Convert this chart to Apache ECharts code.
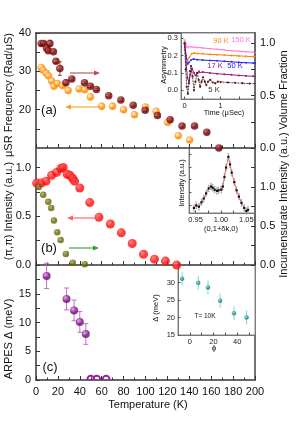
<!DOCTYPE html>
<html><head><meta charset="utf-8">
<script src="https://cdn.jsdelivr.net/npm/echarts@6/dist/echarts.min.js"></script>
<style>html,body{margin:0;padding:0;background:#fff}#c{width:305px;height:432px}</style>
</head><body><div id="c"></div>
<script>
// ---------- DATA ----------
// Panel (a): muSR frequency (left axis, orange) and volume fraction (right axis, dark red)
const freqT = [4.8, 6.6, 9.4, 11.5, 14.3, 16.4, 19.4, 24.3, 29.4, 39.4, 44.5, 49.7, 60, 70, 80, 90, 100, 109.7, 120.3, 130, 140.3];
const freqV = [31.0, 30.3, 29.5, 28.8, 27.5, 26.1, 26.8, 26.3, 25.0, 25.4, 25.2, 23.3, 20.9, 20.9, 20.0, 18.7, 20.7, 19.6, 16.7, 13.2, 12.1];
const freqE = [0.4, 0.4, 0.4, 0.4, 0.5, 0.6, 0.5, 0.6, 0.8, 0.6, 0.6, 0.8, 0.8, 0.8, 0.7, 0.6, 0.6, 0.6, 0.5, 0.5, 0.5];
const volT = [4.8, 7.0, 9.7, 11.2, 12.7, 15.9, 18.2, 21.8, 27.3, 32.7, 44.3, 49.7, 55.2, 66.4, 77.5, 88.8, 99.7, 110.9, 122.5, 133.4, 144.8, 156, 167];
const volV = [1.0, 1.0, 0.955, 0.93, 1.0, 0.92, 0.83, 0.76, 0.625, 0.66, 0.625, 0.59, 0.56, 0.50, 0.46, 0.41, 0.36, 0.31, 0.27, 0.21, 0.21, 0.15, 0.0];
const volE = [0.01, 0.01, 0.01, 0.01, 0.03, 0.01, 0.02, 0.065, 0.025, 0.01, 0.01, 0.01, 0.01, 0.01, 0.01, 0.01, 0.01, 0.01, 0.01, 0.01, 0.01, 0.01, 0.01];
// Inset (a): asymmetry vs time
const asym150 = [[0,0.29],[0.03,0.27],[0.06,0.25],[0.1,0.245],[0.2,0.25],[0.35,0.247],[0.5,0.244],[0.7,0.24],[0.9,0.236],[1.1,0.232],[1.3,0.228],[1.5,0.225],[1.7,0.222],[1.9,0.219],[2.0,0.218]];
const asym90 = [[0,0.28],[0.04,0.2],[0.08,0.17],[0.13,0.19],[0.2,0.21],[0.27,0.215],[0.35,0.212],[0.5,0.21],[0.7,0.207],[0.9,0.205],[1.1,0.203],[1.3,0.2],[1.5,0.198],[1.7,0.196],[1.9,0.194],[2.0,0.193]];
const asym50 = [[0,0.27],[0.04,0.2],[0.08,0.15],[0.12,0.16],[0.18,0.175],[0.25,0.18],[0.35,0.176],[0.5,0.174],[0.7,0.172],[0.9,0.17],[1.1,0.167],[1.3,0.164],[1.5,0.161],[1.7,0.159],[1.9,0.157],[2.0,0.156]];
const asym17 = [[0,0.27],[0.04,0.16],[0.08,0.07],[0.12,0.05],[0.16,0.09],[0.21,0.125],[0.26,0.1],[0.3,0.085],[0.35,0.1],[0.4,0.11],[0.5,0.105],[0.7,0.1],[0.9,0.096],[1.1,0.092],[1.3,0.089],[1.5,0.086],[1.7,0.083],[1.9,0.081],[2.0,0.08]];
const asym5 = [[0,0.27],[0.03,0.12],[0.06,0.02],[0.09,-0.02],[0.12,0.04],[0.15,0.11],[0.18,0.14],[0.22,0.08],[0.26,0.0],[0.3,0.05],[0.35,0.1],[0.39,0.06],[0.43,0.02],[0.47,0.05],[0.51,0.075],[0.56,0.05],[0.6,0.03],[0.65,0.05],[0.71,0.06],[0.78,0.045],[0.85,0.04],[0.92,0.05],[1.0,0.048],[1.2,0.045],[1.4,0.043],[1.6,0.041],[1.8,0.039],[2.0,0.038]];
// Panel (b): (pi,pi) intensity (left, red) and incommensurate intensity (right, olive)
const piT = [0.6, 4.8, 9.1, 14.3, 18.8, 22.7, 24.8, 28.5, 30.9, 33.4, 35.2, 40, 49.1, 57.5, 67.9, 77.9, 87.9, 98.2, 108.2, 118.2, 128.5];
const piV = [0.84, 0.84, 0.86, 0.92, 0.95, 0.99, 1.0, 0.93, 0.92, 0.89, 0.86, 0.79, 0.64, 0.49, 0.42, 0.33, 0.22, 0.11, 0.06, 0.04, 0.0];
const incT = [2.5, 6.6, 11.2, 13.9, 16.4, 19.4, 22.5, 27.3, 33.6, 44.5];
const incV = [1.0, 0.9, 0.81, 0.73, 0.57, 0.42, 0.32, 0.14, 0.03, 0.01];
// Inset (b): intensity vs (0,1+dk,0)
const scanQ = [0.9467, 0.9513, 0.9565, 0.9616, 0.9661, 0.9707, 0.9758, 0.9804, 0.9836, 0.9874, 0.992, 0.9952, 1.0004, 1.0036, 1.0068, 1.01, 1.0146, 1.0178, 1.0211, 1.0262, 1.0307, 1.0353, 1.0404, 1.0456, 1.05, 1.0533];
const scanI = [0.05, 0.09, 0.07, 0.14, 0.2, 0.28, 0.36, 0.39, 0.37, 0.34, 0.32, 0.33, 0.34, 0.39, 0.54, 0.69, 0.86, 0.74, 0.61, 0.46, 0.33, 0.23, 0.13, 0.05, 0.0, 0.02];
// Panel (c): ARPES gap
const gapT = [9.7, 27.9, 34.8, 40, 45.5];
const gapV = [18.1, 14.1, 12.1, 10.1, 8.0];
const gapE = [2.2, 1.9, 1.8, 1.8, 1.8];
const zeroT = [50, 55.5, 64];
const zeroV = [0, 0, 0];
// Inset (c): gap vs angle at T=10K
const phi = [-6.5, 7.1, 15.3, 25.6, 37.3, 47.9];
const phiGap = [31.1, 29.9, 28.6, 24.8, 21.2, 20.0];
const phiErr = [2.0, 2.0, 2.0, 2.0, 2.0, 2.0];
// Tick labels
const tempTicks = [0, 20, 40, 60, 80, 100, 120, 140, 160, 180, 200];

// ---------- CHART ----------
const F = 'Liberation Sans, Arial, sans-serif';
const FRAME = '#666';
const chart = echarts.init(document.getElementById('c'), null, {renderer: 'canvas'});
const zip = (a, b) => a.map((x, i) => [x, b[i]]);
function ball(c, hi) {
  return {type: 'radial', x: 0.38, y: 0.35, r: 0.65, colorStops: [{offset: 0, color: hi}, {offset: 0.2, color: hi}, {offset: 0.6, color: c}, {offset: 1, color: c}]};
}
function errBars(xs, ys, es, xi, yi, color, cap) {
  return {
    type: 'custom', xAxisIndex: xi, yAxisIndex: yi, silent: true, z: 1,
    data: xs.map((x, i) => [x, ys[i] - es[i], ys[i] + es[i]]),
    encode: {x: 0, y: [1, 2]},
    renderItem: (p, api) => {
      const a = api.coord([api.value(0), api.value(1)]);
      const b = api.coord([api.value(0), api.value(2)]);
      const st = {stroke: color, lineWidth: 1};
      return {type: 'group', children: [
        {type: 'line', shape: {x1: a[0], y1: a[1], x2: b[0], y2: b[1]}, style: st},
        {type: 'line', shape: {x1: a[0] - cap, y1: a[1], x2: a[0] + cap, y2: a[1]}, style: st},
        {type: 'line', shape: {x1: b[0] - cap, y1: b[1], x2: b[0] + cap, y2: b[1]}, style: st}
      ]};
    }
  };
}
const mainX = (gi, showLabels) => ({
  type: 'value', gridIndex: gi, min: 0, max: 200, interval: 20,
  axisLine: {show: true, lineStyle: {color: FRAME, width: 1.8}},
  axisTick: {show: true, inside: true, length: 4, lineStyle: {color: '#333'}},
  minorTick: {show: true, splitNumber: 2, length: 2.5, lineStyle: {color: '#333'}},
  axisLabel: {show: showLabels, color: '#111', fontFamily: F, fontSize: 11, margin: 6, customValues: tempTicks},
  splitLine: {show: false}
});
const yAx = (gi, pos, min, max, labels, ticks, fmt, extra) => Object.assign({
  type: 'value', gridIndex: gi, position: pos, min: min, max: max,
  axisLine: {show: true, lineStyle: {color: FRAME, width: 1.8}},
  axisTick: {show: true, inside: true, length: 4, lineStyle: {color: '#333'}, customValues: ticks},
  axisLabel: {show: true, color: '#111', fontFamily: F, fontSize: 11, margin: 5, customValues: labels, formatter: fmt},
  splitLine: {show: false}
}, extra || {});
const insX = (gi, min, max, labels, ticks, fmt) => ({
  type: 'value', gridIndex: gi, min: min, max: max,
  axisLine: {show: true, onZero: false, lineStyle: {color: '#777', width: 1}},
  axisTick: {show: true, inside: true, length: 2.5, lineStyle: {color: '#555'}, customValues: ticks},
  axisLabel: {show: true, color: '#222', fontFamily: F, fontSize: 7.5, margin: 3, customValues: labels, formatter: fmt},
  splitLine: {show: false}
});
const insY = (gi, min, max, labels, ticks, fmt, show) => ({
  type: 'value', gridIndex: gi, min: min, max: max,
  axisLine: {show: true, onZero: false, lineStyle: {color: '#777', width: 1}},
  axisTick: {show: true, inside: true, length: 2.5, lineStyle: {color: '#555'}, customValues: ticks},
  axisLabel: {show: show, color: '#222', fontFamily: F, fontSize: 7.5, margin: 3, customValues: labels, formatter: fmt},
  splitLine: {show: false}
});
const f1 = v => v.toFixed(1);
const f0 = v => String(v);

const txt = (x, y, s, o) => ({type: 'text', x: x, y: y, rotation: (o && o.rot) || 0,
  style: Object.assign({text: s, fill: '#111', font: ((o && o.size) || 11) + 'px ' + F, align: 'center', verticalAlign: 'middle'}, (o && o.style) || {}), z: 100});
const arrow = (x1, x2, y, color) => {
  const d = x2 > x1 ? 1 : -1;
  return [{type: 'line', shape: {x1: x1, y1: y, x2: x2 - d * 3, y2: y}, style: {stroke: color, lineWidth: 1.1}, z: 90},
    {type: 'polygon', shape: {points: [[x2, y], [x2 - d * 6, y - 2.5], [x2 - d * 6, y + 2.5]]}, style: {fill: color}, z: 90}];
};

const option = {
  animation: false,
  backgroundColor: '#fff',
  grid: [
    {left: 36, top: 33, width: 219, height: 115, show: true, borderColor: FRAME, borderWidth: 1.8, backgroundColor: 'transparent'},
    {left: 36, top: 148, width: 219, height: 117, show: true, borderColor: FRAME, borderWidth: 1.8, backgroundColor: 'transparent'},
    {left: 36, top: 265, width: 219, height: 115, show: true, borderColor: FRAME, borderWidth: 1.8, backgroundColor: 'transparent'},
    {left: 181, top: 33, width: 74, height: 66, show: true, borderColor: '#888', borderWidth: 1, backgroundColor: '#fff'},
    {left: 189, top: 148, width: 66, height: 65, show: true, borderColor: '#888', borderWidth: 1, backgroundColor: '#fff'},
    {left: 178, top: 265, width: 77, height: 70, show: true, borderColor: '#888', borderWidth: 1, backgroundColor: '#fff'}
  ],
  xAxis: [
    mainX(0, false), mainX(1, false), mainX(2, true),
    insX(3, -0.1, 1.95, [0, 1], [0, 0.5, 1, 1.5], f0),
    insX(4, 0.937, 1.067, [0.95, 1.0, 1.05], [0.95, 0.975, 1.0, 1.025, 1.05], v => v.toFixed(2)),
    insX(5, -10, 55, [0, 20, 40], [0, 10, 20, 30, 40, 50], f0)
  ],
  yAxis: [
    yAx(0, 'left', 10, 40, [20, 30, 40], [15, 20, 25, 30, 35, 40], f0),
    yAx(0, 'right', 0, 1.1, [0, 0.5, 1.0], [0, 0.25, 0.5, 0.75, 1.0], f1),
    yAx(1, 'left', 0, 1.2, [0, 0.5, 1.0], [0, 0.25, 0.5, 0.75, 1.0], f1),
    yAx(1, 'right', 0, 1.5, [0, 0.5, 1.0], [0, 0.25, 0.5, 0.75, 1.0, 1.25], f1),
    yAx(2, 'left', 0, 20, [0, 5, 10, 15], [0, 2.5, 5, 7.5, 10, 12.5, 15, 17.5], f0),
    insY(3, -0.05, 0.33, [0, 0.1, 0.2, 0.3], [0, 0.1, 0.2, 0.3], f1, true),
    insY(4, -0.03, 1.0, [], [0.1, 0.3, 0.5, 0.7, 0.9], f0, false),
    insY(5, 15, 35, [15, 20, 25, 30], [15, 20, 25, 30], f0, true)
  ],
  series: [
    // panel a
    errBars(freqT, freqV, freqE, 0, 0, '#ffb060', 1.5),
    errBars(volT, volV, volE, 0, 1, '#a04040', 2),
    {type: 'scatter', xAxisIndex: 0, yAxisIndex: 0, data: zip(freqT, freqV), symbolSize: 7,
      itemStyle: {color: ball('#ff8c00', '#ffe2b8'), borderColor: '#ff9a20', borderWidth: 0.6}, z: 3},
    {type: 'scatter', xAxisIndex: 0, yAxisIndex: 1, data: zip(volT, volV), symbolSize: 7.5,
      itemStyle: {color: ball('#700000', '#b04848')}, z: 4},
    // inset a
    {type: 'line', xAxisIndex: 3, yAxisIndex: 5, data: asym150, symbol: 'circle', symbolSize: 2, lineStyle: {color: '#ff66cc', width: 1}, itemStyle: {color: '#ff99dd'}, z: 5},
    {type: 'line', xAxisIndex: 3, yAxisIndex: 5, data: asym90, symbol: 'circle', symbolSize: 2, lineStyle: {color: '#ff7a00', width: 1}, itemStyle: {color: '#ff8c1a'}, z: 5},
    {type: 'line', xAxisIndex: 3, yAxisIndex: 5, data: asym50, symbol: 'circle', symbolSize: 2, lineStyle: {color: '#1a1aff', width: 1}, itemStyle: {color: '#3030ff'}, z: 5},
    {type: 'line', xAxisIndex: 3, yAxisIndex: 5, data: asym17, symbol: 'circle', symbolSize: 2, lineStyle: {color: '#a0167a', width: 1}, itemStyle: {color: '#a0167a'}, z: 5},
    {type: 'line', xAxisIndex: 3, yAxisIndex: 5, data: asym5, symbol: 'circle', symbolSize: 2.2, lineStyle: {color: '#222', width: 0.9, type: [2, 1]}, itemStyle: {color: '#6a1010'}, z: 5},
    // panel b
    {type: 'scatter', xAxisIndex: 1, yAxisIndex: 2, data: zip(piT, piV), symbolSize: 9,
      itemStyle: {color: ball('#ff0a0a', '#ff5050')}, z: 3},
    {type: 'scatter', xAxisIndex: 1, yAxisIndex: 3, data: zip(incT, incV), symbolSize: 6.5,
      itemStyle: {color: ball('#626200', '#949430')}, z: 4},
    // inset b
    errBars(scanQ, scanI, scanQ.map(() => 0.05), 4, 6, '#aaa', 0.8),
    {type: 'line', xAxisIndex: 4, yAxisIndex: 6, data: zip(scanQ, scanI), symbol: 'rect', symbolSize: 2.2,
      lineStyle: {color: '#e05050', width: 0.8}, itemStyle: {color: '#111'}, z: 5},
    // panel c
    errBars(gapT, gapV, gapE, 2, 4, '#c070c0', 2.5),
    {type: 'scatter', xAxisIndex: 2, yAxisIndex: 4, data: zip(gapT, gapV), symbolSize: 8,
      itemStyle: {color: ball('#720a7a', '#c878d0')}, z: 3},
    {type: 'custom', xAxisIndex: 2, yAxisIndex: 4, data: zip(zeroT, zeroV), clip: true, z: 3,
      renderItem: (p, api) => {
        const c = api.coord([api.value(0), api.value(1)]);
        return {type: 'circle', shape: {cx: c[0], cy: c[1] - 1, r: 3.3}, style: {fill: 'none', stroke: '#a020a0', lineWidth: 2}};
      }},
    // inset c
    errBars(phi, phiGap, phiErr, 5, 7, '#8fd0d0', 0),
    {type: 'scatter', xAxisIndex: 5, yAxisIndex: 7, data: zip(phi, phiGap), symbolSize: 4.5,
      itemStyle: {color: ball('#118888', '#66c8c8')}, z: 5}
  ],
  graphic: [
    txt(9, 95, 'μSR Frequency (Rad/μS)', {rot: Math.PI / 2}),
    txt(9, 211, '(π,π) Intensity (a.u.)', {rot: Math.PI / 2}),
    txt(9, 339, 'ARPES Δ (meV)', {rot: Math.PI / 2}),
    txt(284, 90, 'Volume Fraction', {rot: Math.PI / 2}),
    txt(284, 205, 'Incumensurate Intensity (a.u.)', {rot: Math.PI / 2}),
    txt(148, 405, 'Temperature (K)'),
    txt(49, 110, '(a)', {size: 13}),
    txt(49, 248, '(b)', {size: 13}),
    txt(50, 367, '(c)', {size: 13}),
    // inset a text
    txt(164, 65, 'Asymmetry', {rot: Math.PI / 2, size: 7.5}),
    txt(224, 113, 'Time (μSec)', {size: 7.5}),
    txt(221, 41, '90 K', {size: 7.5, style: {fill: '#ff8c1a'}}),
    txt(241, 40, '150 K', {size: 7.5, style: {fill: '#ff77dd'}}),
    txt(215, 66, '17 K', {size: 7.5, style: {fill: '#a0167a'}}),
    txt(235, 66, '50 K', {size: 7.5, style: {fill: '#2020ff'}}),
    txt(214, 90, '5 K', {size: 7.5, style: {fill: '#333'}}),
    // inset b text
    txt(182, 183, 'Intensity (a.u.)', {rot: Math.PI / 2, size: 7.5}),
    txt(221, 229, '(0,1+δk,0)', {size: 7.5}),
    // inset c text
    txt(156, 308, 'Δ (meV)', {rot: Math.PI / 2, size: 7.5}),
    txt(214, 348, 'ϕ', {size: 8}),
    txt(205, 316, 'T= 10K', {size: 6.5}),
    ...arrow(70, 100, 73, '#b05050'),
    ...arrow(100, 65, 107, '#ff9933'),
    ...arrow(97, 67, 218, '#ff6060'),
    ...arrow(69, 99, 248, '#2ca02c')
  ]
};
chart.setOption(option);
</script></body></html>
